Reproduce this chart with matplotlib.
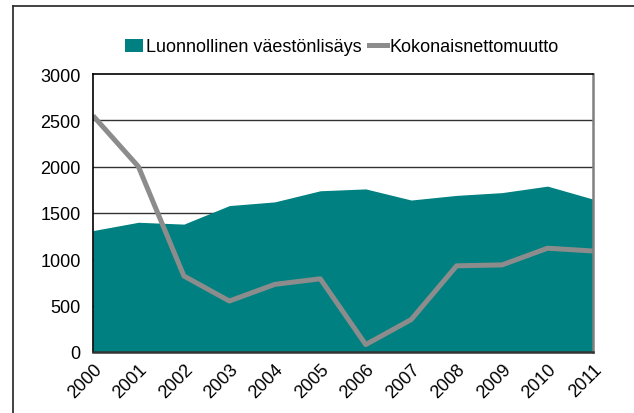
import matplotlib
matplotlib.use("Agg")
import matplotlib.pyplot as plt
from matplotlib.lines import Line2D
from matplotlib.patches import Patch

years = [2000, 2001, 2002, 2003, 2004, 2005, 2006, 2007, 2008, 2009, 2010, 2011]
luonnollinen = [1310, 1400, 1380, 1580, 1620, 1740, 1760, 1640, 1690, 1720, 1790, 1650]
nettomuutto = [2550, 2000, 820, 550, 730, 790, 80, 350, 930, 940, 1120, 1090]
yticks = [0, 500, 1000, 1500, 2000, 2500, 3000]
labels = ["Luonnollinen väestönlisäys", "Kokonaisnettomuutto"]

plt.rcParams['font.family'] = ['Liberation Sans', 'DejaVu Sans']

W, H = 634, 414
fig = plt.figure(figsize=(W / 100, H / 100), dpi=100)
ax = fig.add_axes([93 / W, 1 - 353 / H, (593 - 93) / W, (353 - 75) / H])

teal = '#008080'
gray = '#8c8c8c'

ax.fill_between(years, 0, luonnollinen, color=teal, lw=0, zorder=2)
ax.plot(years, nettomuutto, color=gray, lw=3.6, zorder=3, solid_capstyle='butt')

ax.set_xlim(2000, 2011)
ax.set_ylim(0, 3000)
ax.set_yticks(yticks)
ax.set_xticks(years)
ax.set_xticklabels([str(y) for y in years], rotation=45, ha='right', va='top',
                   rotation_mode='anchor', fontsize=13)
ax.tick_params(axis='y', length=0, pad=9, labelsize=13)
ax.tick_params(axis='x', length=0, pad=6)
for g in yticks[1:-1]:
    ax.axhline(g, color='#333333', lw=1.0, zorder=1)

ax.spines['top'].set_color('#000000')
ax.spines['top'].set_linewidth(1.2)
ax.spines['left'].set_color('#000000')
ax.spines['left'].set_linewidth(1.2)
ax.spines['bottom'].set_color('#333333')
ax.spines['bottom'].set_linewidth(1.8)
ax.spines['right'].set_color('#808080')
ax.spines['right'].set_linewidth(1.8)
for s in ax.spines.values():
    s.set_zorder(4)

handles = [Patch(facecolor=teal, edgecolor='none', label=labels[0]),
           Line2D([0], [0], color=gray, lw=3.6, label=labels[1])]
fig.legend(handles=handles, loc='center', bbox_to_anchor=(342 / W, 1 - 48 / H),
           ncol=2, frameon=False, fontsize=13, handlelength=1.0, handleheight=0.75,
           handletextpad=0.15, columnspacing=0.4)

# outer frame (top and left visible)
fig.add_artist(Line2D([13 / W, 1.0], [1 - 7 / H, 1 - 7 / H], color='#333333', lw=1.3,
                      transform=fig.transFigure))
fig.add_artist(Line2D([13 / W, 13 / W], [0.0, 1 - 7 / H], color='#333333', lw=1.3,
                      transform=fig.transFigure))

fig.savefig('out.png', dpi=100)
